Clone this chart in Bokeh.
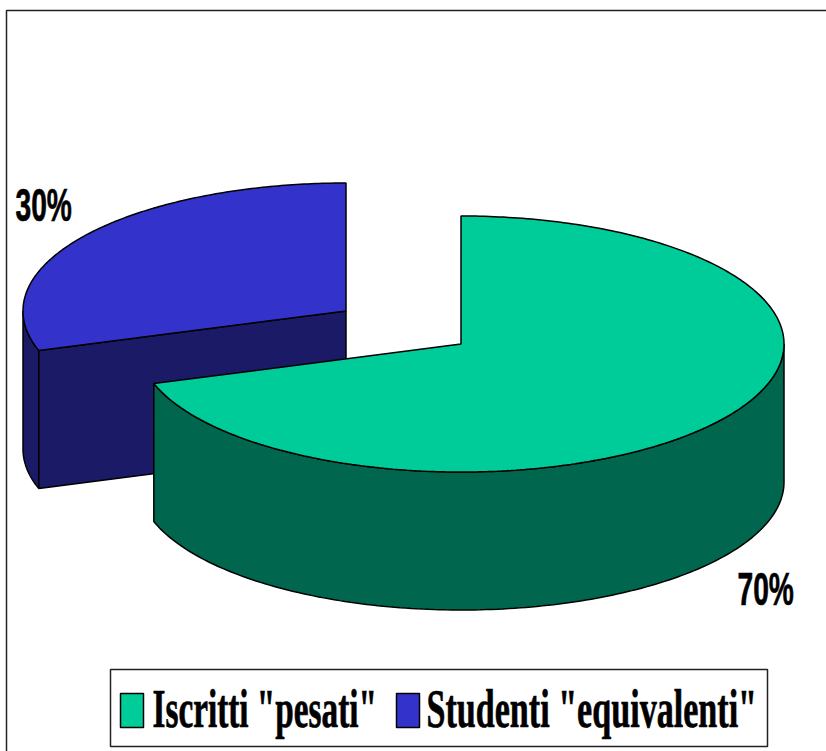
import numpy as np
from bokeh.core.properties import value
from bokeh.document import Document
from bokeh.embed import file_html
from bokeh.models import CustomJS
from bokeh.plotting import figure
from bokeh.resources import INLINE

# Chart content
categories = ['Iscritti "pesati"', 'Studenti "equivalenti"']
shares = [70, 30]
share_labels = ["70%", "30%"]

# Face and wall colours of each slice
top_colors = ["#00CC99", "#3333CC"]
wall_colors = ["#00664D", "#1A1A66"]

# Projection of the tilted pie, in page pixels
RX, RY, DEPTH = 323, 128, 138
CENTERS = [(460.5, 343.5), (345.5, 310.5)]
OUTLINE = "#000000"

W, H = 826, 751
p = figure(width=W, height=H, x_range=(0, W), y_range=(H, 0),
           output_backend="svg", toolbar_location=None, min_border=0,
           outline_line_color=None, background_fill_color="#ffffff")
p.axis.visible = False
p.grid.visible = False


def rim(cx, cy, start, stop, n=160):
    """Points on the elliptical rim; angles run clockwise from 12 o'clock."""
    a = np.radians(np.linspace(start, stop, n))
    return cx + RX * np.sin(a), cy - RY * np.cos(a)


def face(xs, ys, color):
    p.patch(list(xs), list(ys), fill_color=color, line_color=OUTLINE, line_width=1.5)


# Slice boundaries derived from the shares
cut = 360 * shares[0] / sum(shares)

# Detached slice: drawn first, the larger slice overlaps it
cx, cy = CENTERS[1]
x, y = rim(cx, cy, cut, 270)
face(np.r_[x, x[::-1]], np.r_[y, y[::-1] + DEPTH], wall_colors[1])
x0, y0 = rim(cx, cy, cut, cut, 1)
face([cx, x0[0], x0[0], cx], [cy, y0[0], y0[0] + DEPTH, cy + DEPTH], wall_colors[1])
x, y = rim(cx, cy, cut, 360)
face(np.r_[cx, x], np.r_[cy, y], top_colors[1])

# Main slice
cx, cy = CENTERS[0]
x, y = rim(cx, cy, 90, cut)
face(np.r_[x, x[::-1]], np.r_[y, y[::-1] + DEPTH], wall_colors[0])
x, y = rim(cx, cy, 0, cut, 300)
face(np.r_[cx, x], np.r_[cy, y], top_colors[0])

# Chart area border: only the left and top edges fall inside the page
p.line([6, 6, W], [H, 10, 10], line_color="#222222", line_width=1.5)

# Percentage labels
sans = dict(text_font=value("Liberation Sans"), text_font_style="bold",
            text_font_size="47px", text_color="#000000",
            text_align="left", text_baseline="alphabetic")
p.text([737], [588], text=[share_labels[0]], **sans)
p.text([15], [204], text=[share_labels[1]], **sans)

# Legend
p.quad(left=[110], right=[767], top=[669], bottom=[746], fill_color="#ffffff",
       line_color="#222222", line_width=1.5)
p.quad(left=[120, 396], right=[143, 419], top=[693, 693], bottom=[727, 727],
       fill_color=top_colors, line_color=OUTLINE, line_width=1.5)
serif = dict(text_font=value("Liberation Serif"), text_font_style="bold",
             text_font_size="55px", text_color="#000000",
             text_align="left", text_baseline="alphabetic")
p.text([152, 426], [708, 708], text=categories, **serif)

# The type is horizontally condensed: squeeze each text about its left edge
condense = CustomJS(args=dict(first=categories[0]), code="""
const squeeze = (root) => {
  root.querySelectorAll('*').forEach((el) => {
    if (el.shadowRoot) squeeze(el.shadowRoot);
    if (el.tagName.toLowerCase() === 'text' && !el.dataset.squeezed) {
      const family = el.getAttribute('font-family') || getComputedStyle(el).fontFamily || '';
      const serif = family.includes('Serif');
      const s = serif ? (el.textContent === first ? 0.605 : 0.62) : 0.60;
      const x = parseFloat(el.getAttribute('x') || 0);
      const old = el.getAttribute('transform') || '';
      el.setAttribute('transform', `${old} translate(${x} 0) scale(${s} 1) translate(${-x} 0)`);
      el.setAttribute('stroke', '#000000');
      el.setAttribute('stroke-width', '0.7');
      el.dataset.squeezed = '1';
    }
  });
};
[0, 100, 400].forEach((t) => setTimeout(() => squeeze(document), t));
""")

doc = Document()
doc.add_root(p)
doc.js_on_event("document_ready", condense)

open("out.html", "w").write(file_html(doc, INLINE))
